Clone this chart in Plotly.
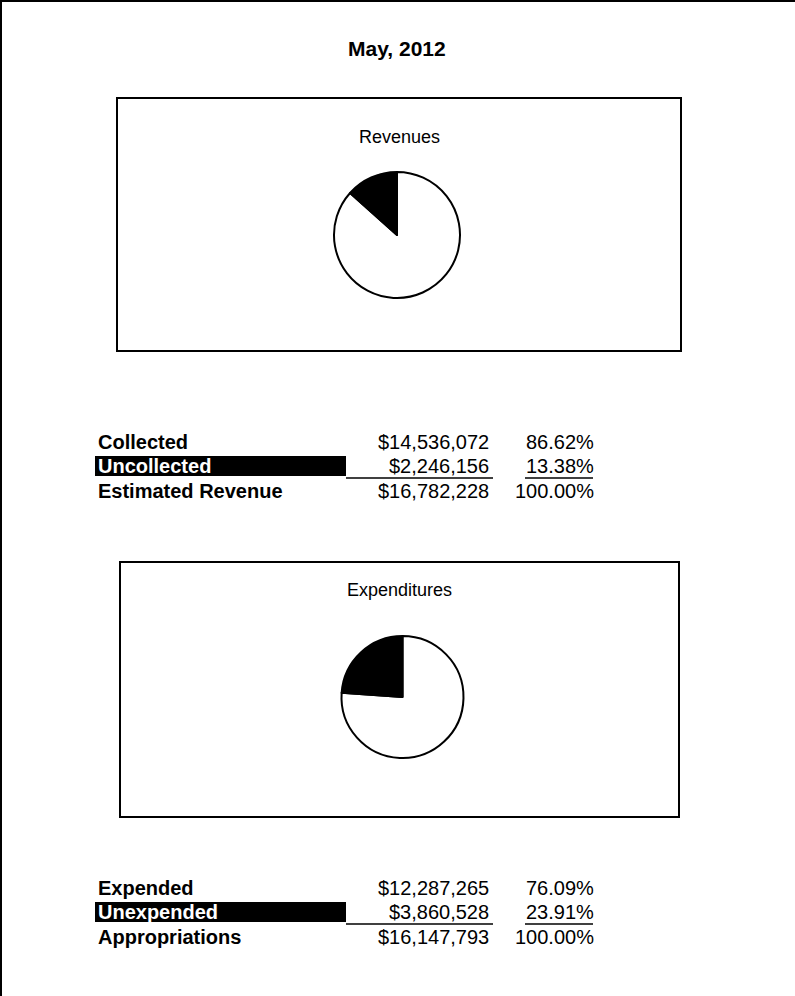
import plotly.graph_objects as go

# Monthly budget status, May 2012
report_title = "May, 2012"

revenue_labels = ["Collected", "Uncollected"]
revenue_values = [14536072, 2246156]
revenue_total_label = "Estimated Revenue"

expense_labels = ["Expended", "Unexpended"]
expense_values = [12287265, 3860528]
expense_total_label = "Appropriations"

W, H = 795, 996
FONT = "Liberation Sans, Arial, sans-serif"
TABLE_SIZE = 20


def px(x):
    return x / W


def py(y):
    return 1 - y / H


fig = go.Figure()
shapes = []
annotations = []

# page border (left and top edges)
shapes.append(dict(type="line", xref="paper", yref="paper", x0=px(1), x1=px(1),
                   y0=py(0), y1=py(H), line=dict(color="black", width=2)))
shapes.append(dict(type="line", xref="paper", yref="paper", x0=px(0), x1=px(W),
                   y0=py(1), y1=py(1), line=dict(color="black", width=2)))

annotations.append(dict(text="<b>" + report_title + "</b>", xref="paper", yref="paper",
                        x=px(397), y=py(49), showarrow=False, xanchor="center", yanchor="middle",
                        font=dict(family=FONT, size=21, color="black")))


def add_section(title, labels, values, total_label, box, title_y, pie_c, pie_r, row_y):
    x0, y0, x1, y1 = box
    shapes.append(dict(type="rect", xref="paper", yref="paper", x0=px(x0), x1=px(x1),
                       y0=py(y1), y1=py(y0), line=dict(color="black", width=2),
                       fillcolor="rgba(0,0,0,0)"))
    annotations.append(dict(text=title, xref="paper", yref="paper", x=px((x0 + x1) / 2),
                            y=py(title_y), showarrow=False, xanchor="center", yanchor="middle",
                            font=dict(family=FONT, size=18, color="black")))
    cx, cy = pie_c
    # first slice white, second black; clockwise from 12 o'clock
    fig.add_trace(go.Pie(
        labels=labels, values=values, sort=False, direction="clockwise", rotation=0,
        marker=dict(colors=["white", "black"], line=dict(color="black", width=2)),
        textinfo="none", hoverinfo="label+value+percent", showlegend=False,
        domain=dict(x=[px(cx - pie_r), px(cx + pie_r)], y=[py(cy + pie_r), py(cy - pie_r)]),
    ))

    total = sum(values)
    rows = [
        (labels[0], values[0], values[0] / total * 100, False),
        (labels[1], values[1], values[1] / total * 100, True),
        (total_label, total, 100.0, False),
    ]
    for (lab, val, pct, hl), yy in zip(rows, row_y):
        if hl:
            shapes.append(dict(type="rect", xref="paper", yref="paper", x0=px(95), x1=px(346),
                               y0=py(yy + 10), y1=py(yy - 10), line=dict(width=0),
                               fillcolor="black"))
        annotations.append(dict(text="<b>" + lab + "</b>", xref="paper", yref="paper",
                                x=px(96), y=py(yy), showarrow=False, xanchor="left",
                                yanchor="middle",
                                font=dict(family=FONT, size=TABLE_SIZE,
                                          color="white" if hl else "black")))
        annotations.append(dict(text="${:,.0f}".format(val), xref="paper", yref="paper",
                                x=px(491), y=py(yy), showarrow=False, xanchor="right",
                                yanchor="middle",
                                font=dict(family=FONT, size=TABLE_SIZE, color="black")))
        annotations.append(dict(text="{:.2f}%".format(pct), xref="paper", yref="paper",
                                x=px(596), y=py(yy), showarrow=False, xanchor="right",
                                yanchor="middle",
                                font=dict(family=FONT, size=TABLE_SIZE, color="black")))
    ul = row_y[1] + 12
    shapes.append(dict(type="line", xref="paper", yref="paper", x0=px(346), x1=px(493),
                       y0=py(ul), y1=py(ul), line=dict(color="black", width=1.5)))
    shapes.append(dict(type="line", xref="paper", yref="paper", x0=px(525), x1=px(593),
                       y0=py(ul), y1=py(ul), line=dict(color="black", width=1.5)))


add_section("Revenues", revenue_labels, revenue_values, revenue_total_label,
            (117, 98, 681, 351), 137, (397, 235), 63, (442, 466, 491))
add_section("Expenditures", expense_labels, expense_values, expense_total_label,
            (120, 562, 679, 817), 590, (402.5, 697), 61, (888, 912, 937))

fig.update_layout(
    width=W, height=H, margin=dict(l=0, r=0, t=0, b=0),
    paper_bgcolor="white", plot_bgcolor="white",
    shapes=shapes, annotations=annotations,
)

fig.write_html("out.html")
